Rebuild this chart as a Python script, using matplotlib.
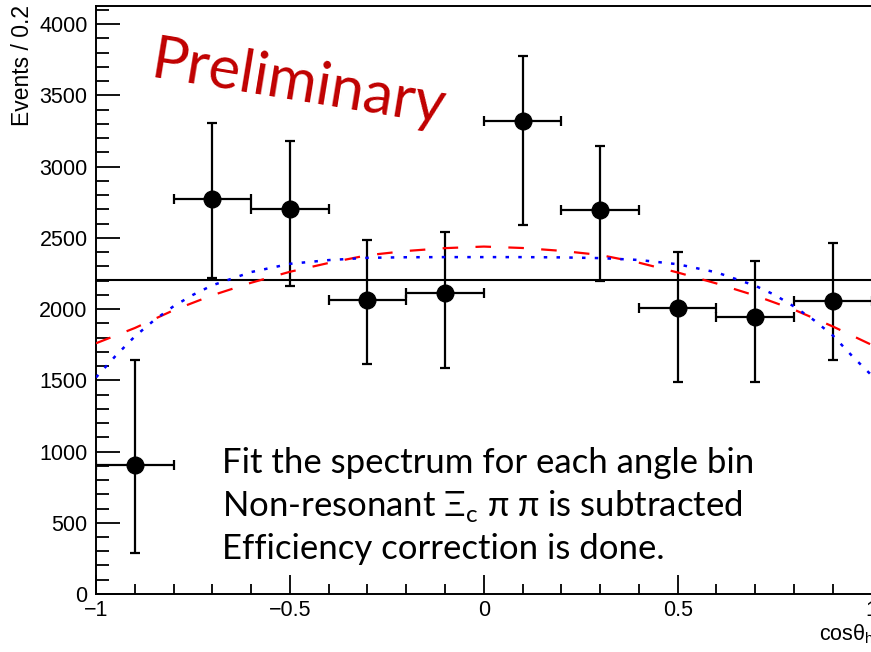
import matplotlib

matplotlib.use("Agg")

import matplotlib.pyplot as plt
from matplotlib.ticker import MultipleLocator

# measured yield per angular bin (efficiency corrected, non-resonant part removed)
bin_centres = [-0.9, -0.7, -0.5, -0.3, -0.1, 0.1, 0.3, 0.5, 0.7, 0.9]
bin_half_width = 0.1
events = [906, 2772, 2701, 2065, 2112, 3322, 2697, 2006, 1947, 2060]
err_up = [737, 533, 482, 421, 430, 456, 451, 398, 394, 407]
err_down = [616, 551, 536, 452, 527, 731, 497, 515, 456, 417]

# flat (isotropic) fit
flat_level = 2207

# fit curves sampled in cos(theta)
red_x = [-1.0, -0.9, -0.8, -0.7, -0.6, -0.5, -0.4, -0.3, -0.2, -0.1, 0.0,
         0.1, 0.2, 0.3, 0.4, 0.5, 0.6, 0.7, 0.8, 0.9, 1.0]
red_y = [1760, 1867, 1992, 2097, 2185, 2262, 2324, 2378, 2408, 2428, 2439,
         2429, 2409, 2380, 2326, 2257, 2180, 2095, 1996, 1878, 1749]

blue_x = [-1.0, -0.95, -0.9, -0.85, -0.8, -0.75, -0.7, -0.6, -0.5, -0.4, -0.3,
          -0.2, -0.1, 0.0, 0.1, 0.2, 0.3, 0.4, 0.5, 0.6, 0.7, 0.75, 0.8,
          0.85, 0.9, 0.95, 1.0]
blue_y = [1520, 1670, 1808, 1922, 2020, 2100, 2167, 2260, 2318, 2344, 2360,
          2364, 2365, 2365, 2365, 2363, 2358, 2345, 2315, 2258, 2164, 2100, 2018,
          1925, 1815, 1670, 1535]

y_max = 4128

plt.rcParams["font.family"] = ["Liberation Sans", "DejaVu Sans"]

fig = plt.figure(figsize=(8.71, 6.52), dpi=100)
ax = fig.add_axes([0.1102, 0.0890, 0.8905, 0.9018])

ax.errorbar(
    bin_centres, events,
    xerr=bin_half_width, yerr=[err_down, err_up],
    fmt="o", color="black", markersize=12, elinewidth=1.6,
    capsize=3.6, capthick=1.6, zorder=3,
)
ax.axhline(flat_level, color="black", linewidth=1.5, zorder=2)
ax.plot(red_x, red_y, color="#ff0000", linewidth=1.6, dashes=(7.0, 7.8), zorder=4)
ax.plot(blue_x, blue_y, color="#0000ff", linewidth=1.8, dashes=(1.4, 3.7), zorder=4)

ax.set_xlim(-1, 1)
ax.set_ylim(0, y_max)

ax.xaxis.set_major_locator(MultipleLocator(0.5))
ax.xaxis.set_minor_locator(MultipleLocator(0.1))
ax.yaxis.set_major_locator(MultipleLocator(500))
ax.yaxis.set_minor_locator(MultipleLocator(100))
ax.xaxis.set_major_formatter(plt.FuncFormatter(lambda v, _: f"{v:g}".replace("-", "\u2212")))

ax.tick_params(axis="y", which="major", direction="in", length=17, width=1.3,
               labelsize=15.5, pad=6)
ax.tick_params(axis="y", which="minor", direction="in", length=9, width=1.3)
ax.tick_params(axis="x", which="major", direction="in", length=13.5, width=1.3,
               labelsize=15.5, pad=4)
ax.tick_params(axis="x", which="minor", direction="in", length=7, width=1.3)
for side in ["left", "bottom", "top", "right"]:
    ax.spines[side].set_linewidth(1.4)

fig.text(0.026, 0.993, "Events / 0.2", rotation=90, ha="center", va="top",
         fontsize=16.5)
fig.text(1.003, 0.0184, r"cos$\mathregular{\theta_h}$", ha="right",
         va="baseline", fontsize=15.5)

fig.text(0.171, 0.882, "Preliminary", family=["Lato", "DejaVu Sans"],
         fontsize=43, color="#c00000", rotation=-9.3, rotation_mode="anchor",
         ha="left", va="baseline")

notes = [
    "Fit the spectrum for each angle bin",
    "Non-resonant \u039e$_\\mathregular{c}$ \u03c0 \u03c0 is subtracted",
    "Efficiency correction is done.",
]
for i, line in enumerate(notes):
    fig.text(0.2549, 0.275 - i * 0.066, line, family=["Lato", "DejaVu Sans"],
             fontsize=25, color="black", ha="left", va="baseline")

fig.savefig("out.png", dpi=100)
